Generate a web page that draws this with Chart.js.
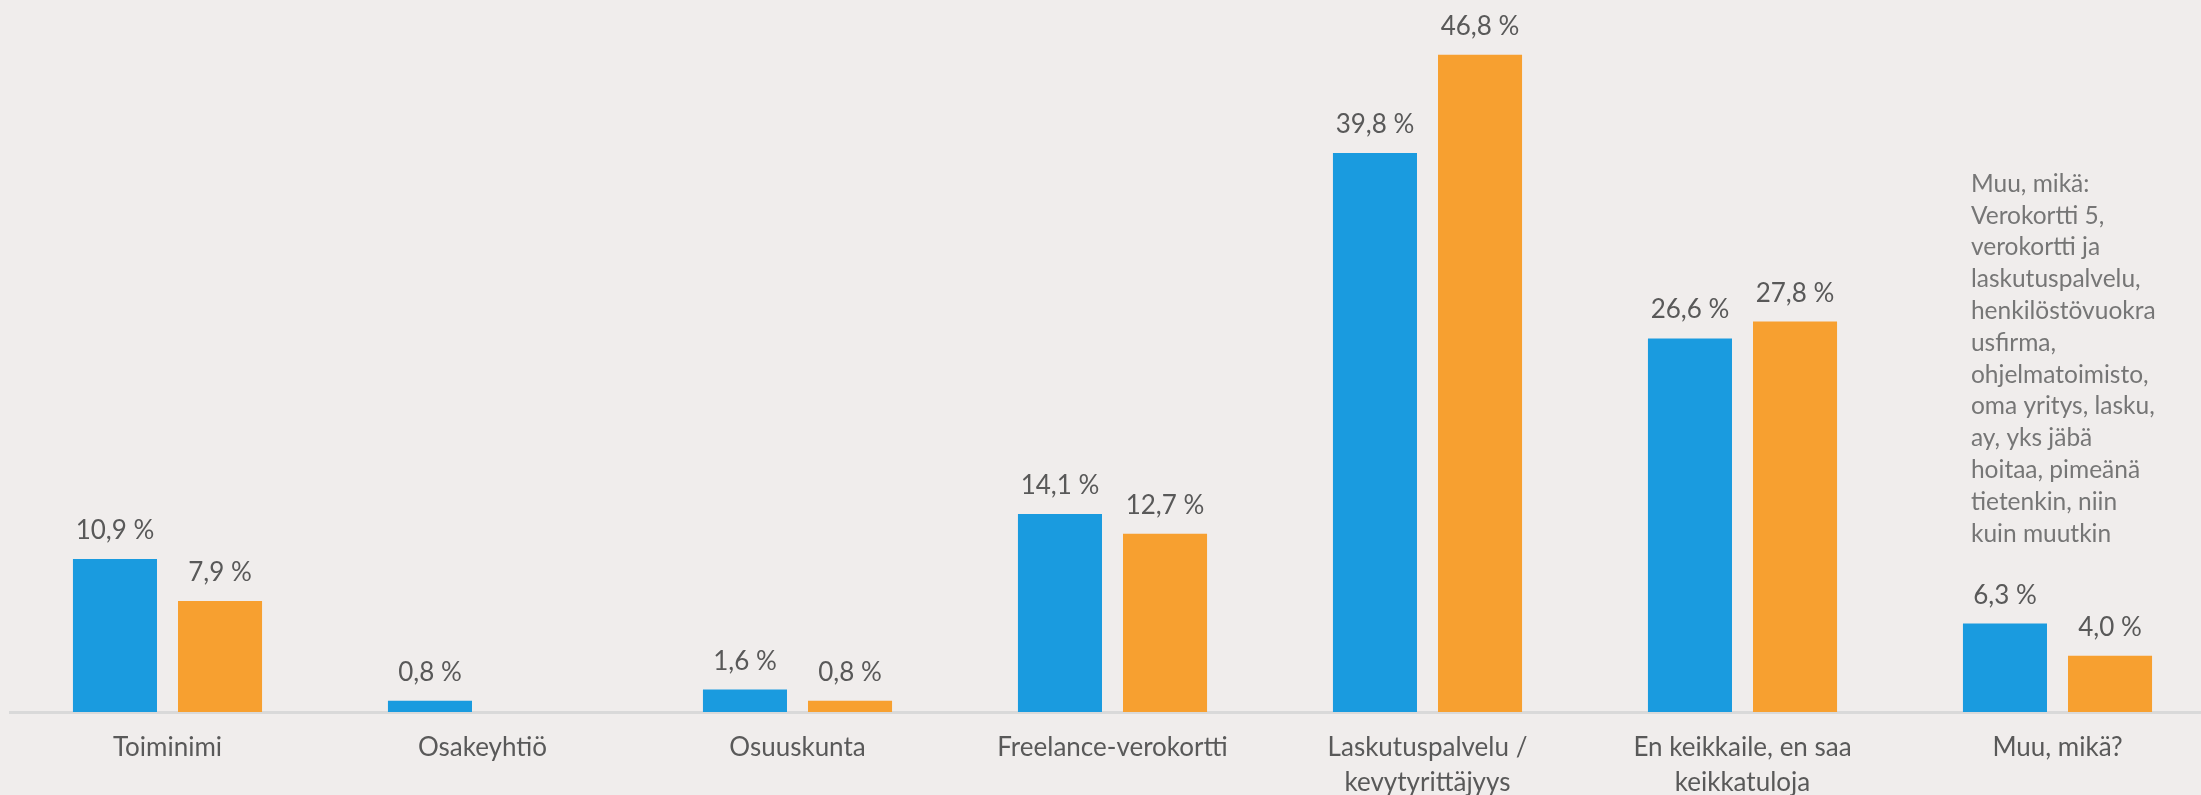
<!DOCTYPE html>
<html>
<head>
<meta charset="utf-8">
<script src="https://cdn.jsdelivr.net/npm/chart.js@4.4.1/dist/chart.umd.min.js"></script>
<style>
  html, body { margin: 0; padding: 0; background: #f0edec; overflow: hidden; }
  #wrap { width: 2215px; height: 820px; }
</style>
</head>
<body>
<div id="wrap"><canvas id="chart" width="2215" height="820"></canvas></div>
<script>
const categories = [
    "Toiminimi",
    "Osakeyhtiö",
    "Osuuskunta",
    "Freelance-verokortti",
    ["Laskutuspalvelu /", "kevytyrittäjyys"],
    ["En keikkaile, en saa", "keikkatuloja"],
    "Muu, mikä?"
];
const seriesBlue = [10.9, 0.8, 1.6, 14.1, 39.8, 26.6, 6.3];
const seriesOrange = [7.9, 0, 0.8, 12.7, 46.8, 27.8, 4.0];
const otherNote = [
    "Muu, mikä:",
    "Verokortti 5,",
    "verokortti ja",
    "laskutuspalvelu,",
    "henkilöstövuokra",
    "usfirma,",
    "ohjelmatoimisto,",
    "oma yritys, lasku,",
    "ay, yks jäbä",
    "hoitaa, pimeänä",
    "tietenkin, niin",
    "kuin muutkin"
];

const fontFamily = "Lato, 'Open Sans', sans-serif";

function fmt(v) {
    return v.toFixed(1).replace(".", ",") + " %";
}

// value labels above bars
const valueLabels = {
    id: "valueLabels",
    afterDatasetsDraw(chart) {
        const ctx = chart.ctx;
        ctx.save();
        ctx.fillStyle = "#595959";
        ctx.font = "26px " + fontFamily;
        ctx.textAlign = "center";
        ctx.textBaseline = "alphabetic";
        chart.data.datasets.forEach((ds, i) => {
            const meta = chart.getDatasetMeta(i);
            meta.data.forEach((bar, j) => {
                const v = ds.data[j];
                if (!v) return;
                ctx.fillText(fmt(v), bar.x, bar.y - 20);
            });
        });
        ctx.restore();
    }
};

// the open answers note above the last group
const noteText = {
    id: "noteText",
    afterDatasetsDraw(chart) {
        const ctx = chart.ctx;
        const bar = chart.getDatasetMeta(0).data[categories.length - 1];
        const left = bar.x - bar.width / 2 + 8;
        const lastY = bar.y - 82;
        ctx.save();
        ctx.fillStyle = "#767676";
        ctx.font = "24.5px " + fontFamily;
        ctx.textAlign = "left";
        ctx.textBaseline = "alphabetic";
        otherNote.forEach((line, k) => {
            ctx.fillText(line, left, lastY - (otherNote.length - 1 - k) * 31.8);
        });
        ctx.restore();
    }
};

new Chart(document.getElementById("chart"), {
    type: "bar",
    data: {
        labels: categories,
        datasets: [
            {
                label: "Sarja 1",
                data: seriesBlue,
                backgroundColor: "#1a9bdf",
                categoryPercentage: 0.667,
                barPercentage: 0.8
            },
            {
                label: "Sarja 2",
                data: seriesOrange,
                backgroundColor: "#f7a030",
                categoryPercentage: 0.667,
                barPercentage: 0.8
            }
        ]
    },
    options: {
        responsive: false,
        animation: false,
        layout: { padding: { left: 10, right: 0, top: 0, bottom: 0 } },
        plugins: {
            legend: { display: false },
            tooltip: { enabled: false }
        },
        scales: {
            x: {
                grid: { display: false, drawTicks: false },
                border: { display: true, color: "#d9d9d9", width: 3 },
                ticks: {
                    color: "#595959",
                    font: { family: fontFamily, size: 26, lineHeight: 1.35 },
                    padding: 18,
                    maxRotation: 0,
                    autoSkip: false
                },
                afterFit(scale) { scale.height = 108; }
            },
            y: {
                display: false,
                min: 0,
                max: 50.7
            }
        }
    },
    plugins: [valueLabels, noteText]
});
</script>
</body>
</html>
